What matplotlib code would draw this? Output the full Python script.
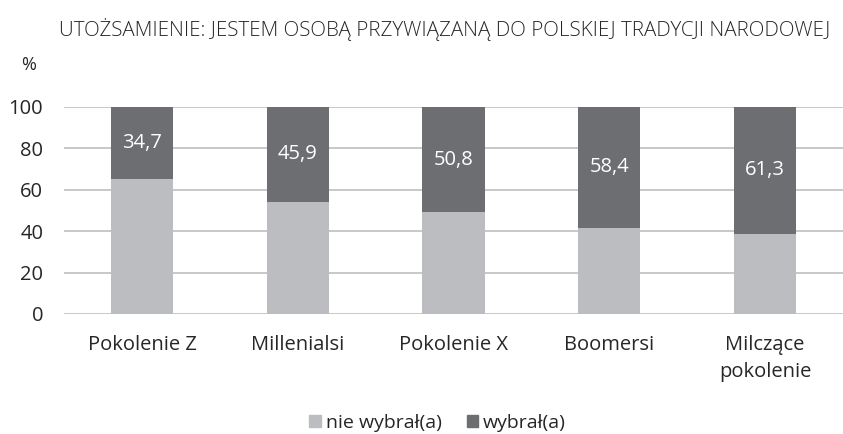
import matplotlib
matplotlib.use("Agg")
import matplotlib.pyplot as plt
from matplotlib.patches import Patch
import numpy as np

plt.rcParams['font.family'] = ['Open Sans', 'DejaVu Sans']

# data
categories = ['Pokolenie Z', 'Millenialsi', 'Pokolenie X', 'Boomersi', 'Milczące\npokolenie']
wybral = [34.7, 45.9, 50.8, 58.4, 61.3]
nie_wybral = [round(100 - v, 1) for v in wybral]
yticks = [0, 20, 40, 60, 80, 100]

light = '#bcbdc0'
dark = '#6d6e71'
txt = '#262626'

fig = plt.figure(figsize=(8.43, 4.34), dpi=100)
ax = fig.add_axes([0.076, 0.2765, 0.924, 0.477])

x = np.arange(len(categories))
ax.bar(x, nie_wybral, width=0.4, color=light, zorder=2)
ax.bar(x, wybral, width=0.4, bottom=nie_wybral, color=dark, zorder=2)

for xi, b, v in zip(x, nie_wybral, wybral):
    ax.text(xi, b + v / 2, f'{v:.1f}'.replace('.', ','), ha='center', va='center',
            color='white', fontsize=14.5)

ax.set_xlim(-0.5, 4.5)
ax.set_ylim(0, 100)
ax.set_yticks(yticks)
ax.yaxis.grid(True, color='#bfbfbf', linewidth=1.2, zorder=0)
ax.set_axisbelow(True)
for s in ax.spines.values():
    s.set_visible(False)
ax.tick_params(axis='both', length=0, labelsize=14.5, colors=txt)
ax.tick_params(axis='y', pad=15)
ax.tick_params(axis='x', pad=15)
ax.set_xticks(x)
ax.set_xticklabels(categories, linespacing=1.5)

fig.text(0.528, 0.933, 'UTOŻSAMIENIE: JESTEM OSOBĄ PRZYWIĄZANĄ DO POLSKIEJ TRADYCJI NARODOWEJ',
         ha='center', va='center', fontsize=14.8, color=txt, fontweight='light')
fig.text(0.034, 0.85, '%', ha='center', va='center', fontsize=13, color=txt)

handles = [Patch(color=light), Patch(color=dark)]
fig.legend(handles, ['nie wybrał(a)', 'wybrał(a)'], loc='center', bbox_to_anchor=(0.519, 0.025),
           ncol=2, frameon=False, fontsize=14, handlelength=0.6, handleheight=0.6,
           handletextpad=0.25, columnspacing=1.3, labelcolor=txt)

fig.savefig('out.png', dpi=100)
